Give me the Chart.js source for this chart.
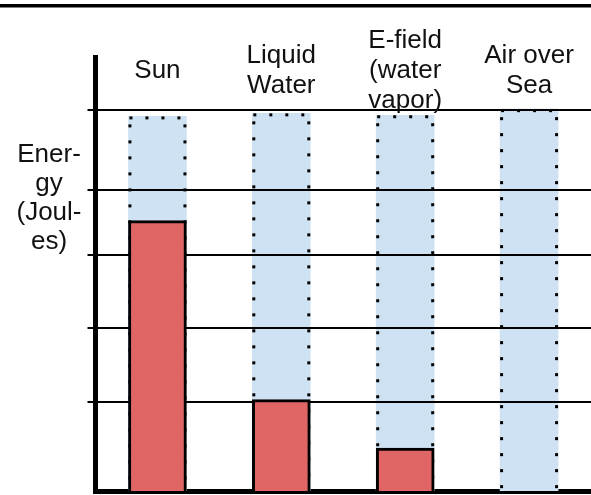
<!DOCTYPE html>
<html>
<head>
<meta charset="utf-8">
<script src="https://cdn.jsdelivr.net/npm/chart.js@4.4.0/dist/chart.umd.min.js"></script>
<style>
  body { margin: 0; background: #fff; }
  #wrap { width: 591px; height: 495px; position: relative; }
</style>
</head>
<body>
<div id="wrap"><canvas id="chart_energy"></canvas></div>
<script>
const categories = [["Sun"], ["Liquid", "Water"], ["E-field", "(water", "vapor)"], ["Air over", "Sea"]];
const energyNow = [71, 24, 11.3, 0];
const energyMax = [98.4, 99.2, 98.7, 100.3];
const gridValues = [23.4, 42.8, 61.9, 79, 100];
const yTitle = ["Ener-", "gy", "(Joul-", "es)"];

const textFont = "26px 'Liberation Sans', Arial, sans-serif";

// top rule, category names, y title, dotted outline of the blue columns,
// and the grid lines, which sit above the blue columns but under the red ones
const decorations = {
  id: "decorations",
  beforeDraw(chart) {
    const ctx = chart.ctx;
    ctx.save();
    ctx.fillStyle = "#000";
    ctx.fillRect(0, 4, chart.width, 3.5);
    ctx.restore();
  },
  afterDatasetDraw(chart, args) {
    if (args.index !== 1) return;
    const ctx = chart.ctx;
    const yScale = chart.scales.y;
    const area = chart.chartArea;
    ctx.save();
    ctx.fillStyle = "#000";
    args.meta.data.forEach((bar) => {
      const left = bar.x - bar.width / 2;
      const right = bar.x + bar.width / 2;
      const top = bar.y;
      const bottom = bar.base;
      for (let x = left + 1; x < right - 4; x += 16) {
        ctx.fillRect(x, top, 3, 3);
      }
      for (let y = top + 8; y < bottom - 4; y += 16) {
        ctx.fillRect(left, y, 3, 3);
        ctx.fillRect(right - 3, y, 3, 3);
      }
    });
    ctx.strokeStyle = "#000";
    ctx.lineWidth = 2;
    gridValues.forEach((v) => {
      const y = Math.round(yScale.getPixelForValue(v));
      ctx.beginPath();
      ctx.moveTo(area.left - 8, y);
      ctx.lineTo(area.right, y);
      ctx.stroke();
    });
    ctx.restore();
  },
  afterDraw(chart) {
    const ctx = chart.ctx;
    const xScale = chart.scales.x;
    ctx.save();
    ctx.font = textFont;
    ctx.fillStyle = "#111";
    ctx.textAlign = "center";
    ctx.textBaseline = "alphabetic";
    categories.forEach((lines, i) => {
      const cx = xScale.getPixelForValue(i);
      const first = 78 - ((lines.length - 1) * 30) / 2;
      lines.forEach((line, j) => {
        ctx.fillText(line, cx, first + j * 30);
      });
    });
    yTitle.forEach((line, j) => {
      ctx.fillText(line, 49, 162 + j * 29);
    });
    ctx.restore();
  },
};

const chart_energy = new Chart(document.getElementById("chart_energy"), {
  type: "bar",
  data: {
    labels: categories.map((c) => c.join(" ")),
    datasets: [
      {
        label: "Now",
        data: energyNow,
        backgroundColor: "#e06666",
        borderColor: "#000",
        borderWidth: 3,
        barThickness: 58,
      },
      {
        label: "Possible",
        data: energyMax,
        backgroundColor: "#cfe2f3",
        borderWidth: 0,
        barThickness: 58,
      },
    ],
  },
  options: {
    responsive: true,
    maintainAspectRatio: false,
    animation: false,
    layout: { padding: { top: 57, left: 0, right: 0, bottom: 0 } },
    scales: {
      x: {
        stacked: true,
        grid: { display: false },
        border: { display: true, color: "#000", width: 5 },
        ticks: { display: false },
        afterFit(scale) {
          scale.height = 4;
        },
      },
      y: {
        stacked: false,
        min: 0,
        max: 114,
        afterFit(scale) {
          scale.width = 95.5;
        },
        grid: { display: false },
        border: { display: true, color: "#000", width: 5 },
        ticks: { display: false },
      },
    },
    plugins: {
      legend: { display: false },
      tooltip: { enabled: false },
    },
  },
  plugins: [decorations],
});
</script>
</body>
</html>
